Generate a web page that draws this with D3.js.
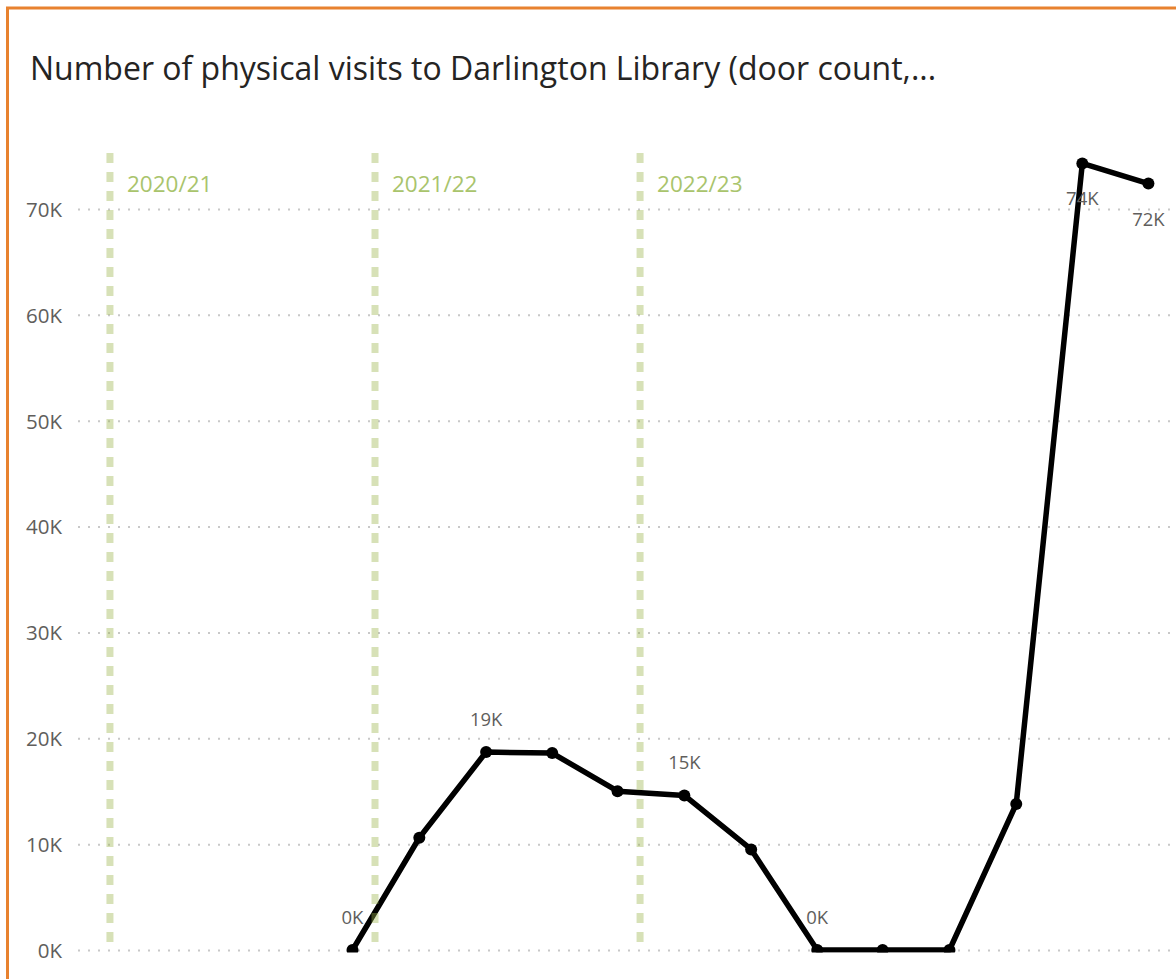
<!DOCTYPE html>
<html>
<head>
<meta charset="utf-8">
<script src="https://d3js.org/d3.v7.min.js"></script>
<style>
    body {
        margin: 0;
        background: #ffffff;
    }
    text {
        font-family: "Segoe UI", "Open Sans", sans-serif;
    }
    text.chart-title {
        font-size: 32px;
        fill: #252423;
    }
    text.year-label {
        font-size: 22.5px;
        fill: #A9C46C;
    }
    text.point-label {
        font-size: 18.5px;
        fill: #605E5C;
    }
    .grid line {
        stroke: #C8C8C8;
        stroke-width: 2px;
        stroke-dasharray: 2 8;
    }
</style>
</head>
<body>
<div id="chart"></div>
<script>
    // quarterly door counts (points sit on the 1st of Mar / Jun / Sep / Dec)
    const quarterDates = ["2021-03-01", "2021-06-01", "2021-09-01", "2021-12-01",
                          "2022-03-01", "2022-06-01", "2022-09-01", "2022-12-01",
                          "2023-03-01", "2023-06-01", "2023-09-01", "2023-12-01",
                          "2024-03-01"];
    const visits = [0, 10600, 18700, 18600, 15000, 14600, 9500, 0, 0, 0, 13800, 74300, 72400];
    // which points carry a data label, and on which side
    const pointLabels = ["0K", "", "19K", "", "", "15K", "", "0K", "", "", "", "74K", "72K"];
    const labelSide = ["above", "", "above", "", "", "above", "", "above", "", "", "", "below", "below"];

    // financial year markers
    const yearStarts = ["2020-04-01", "2021-04-01", "2022-04-01"];
    const yearLabels = ["2020/21", "2021/22", "2022/23"];

    const yTicks = [0, 10000, 20000, 30000, 40000, 50000, 60000, 70000];
    const xDomain = ["2020-02-17", "2024-04-08"];
    const yMax = 75000;

    const W = 1176, H = 979;
    const margin = {top: 156, right: 0, bottom: 29, left: 78};

    const parse = d3.utcParse("%Y-%m-%d");
    const data = quarterDates.map((d, i) => ({
        date: parse(d),
        value: visits[i],
        label: pointLabels[i],
        side: labelSide[i]
    }));

    const svg = d3.select("#chart")
        .append("svg")
        .attr("width", W)
        .attr("height", H);

    // card border (runs off the right and bottom edges)
    svg.append("rect")
        .attr("x", 7.5)
        .attr("y", 8)
        .attr("width", W + 20)
        .attr("height", H + 20)
        .attr("fill", "none")
        .attr("stroke", "#E8822F")
        .attr("stroke-width", 3);

    svg.append("text")
        .attr("class", "chart-title")
        .attr("x", 30)
        .attr("y", 80)
        .text("Number of physical visits to Darlington Library (door count,...");

    const xScale = d3.scaleUtc()
        .domain(xDomain.map(parse))
        .range([margin.left, W - margin.right]);

    const yScale = d3.scaleLinear()
        .domain([0, yMax])
        .range([H - margin.bottom, margin.top]);

    // dotted horizontal grid
    svg.append("g")
        .attr("class", "grid")
        .attr("transform", `translate(${margin.left}, 0)`)
        .call(d3.axisLeft(yScale)
            .tickValues(yTicks)
            .tickSize(-(W - margin.left - margin.right))
            .tickFormat(""))
        .call(g => g.select(".domain").remove());

    // y axis labels
    svg.append("g")
        .attr("class", "y-axis")
        .attr("transform", `translate(${margin.left - 16}, 0)`)
        .call(d3.axisLeft(yScale)
            .tickValues(yTicks)
            .tickSize(0)
            .tickPadding(0)
            .tickFormat(d => `${d / 1000}K`))
        .call(g => g.select(".domain").remove())
        .call(g => g.selectAll("text")
            .attr("dy", "0.36em")
            .style("font-family", "'Segoe UI', 'Open Sans', sans-serif")
            .style("font-size", "20.5px")
            .style("fill", "#605E5C"));

    // clip the series at the bottom of the plot area
    svg.append("clipPath")
        .attr("id", "plot-clip")
        .append("rect")
        .attr("x", 0)
        .attr("y", 0)
        .attr("width", W)
        .attr("height", yScale(0) + 2.5);

    const series = svg.append("g").attr("clip-path", "url(#plot-clip)");

    series.append("path")
        .datum(data)
        .attr("fill", "none")
        .attr("stroke", "#000000")
        .attr("stroke-width", 5.5)
        .attr("stroke-linejoin", "round")
        .attr("d", d3.line()
            .x(d => xScale(d.date))
            .y(d => yScale(d.value)));

    series.selectAll("circle")
        .data(data)
        .join("circle")
        .attr("cx", d => xScale(d.date))
        .attr("cy", d => yScale(d.value))
        .attr("r", 6)
        .attr("fill", "#000000");

    // financial year lines, drawn over the series
    svg.selectAll("line.year-line")
        .data(yearStarts)
        .join("line")
        .attr("class", "year-line")
        .attr("x1", d => xScale(parse(d)))
        .attr("x2", d => xScale(parse(d)))
        .attr("y1", yScale(yMax) - 3)
        .attr("y2", yScale(0) - 4)
        .attr("stroke", "#9BB54C")
        .attr("stroke-opacity", 0.4)
        .attr("stroke-width", 7)
        .attr("stroke-dasharray", "10 9");

    svg.selectAll("text.year-label")
        .data(yearStarts)
        .join("text")
        .attr("class", "year-label")
        .attr("x", d => xScale(parse(d)) + 17)
        .attr("y", 192)
        .text((d, i) => yearLabels[i]);

    // data labels
    svg.selectAll("text.point-label")
        .data(data.filter(d => d.label !== ""))
        .join("text")
        .attr("class", "point-label")
        .attr("x", d => xScale(d.date))
        .attr("y", d => yScale(d.value) + (d.side === "below" ? 42 : -26))
        .attr("text-anchor", "middle")
        .text(d => d.label);
</script>
</body>
</html>
